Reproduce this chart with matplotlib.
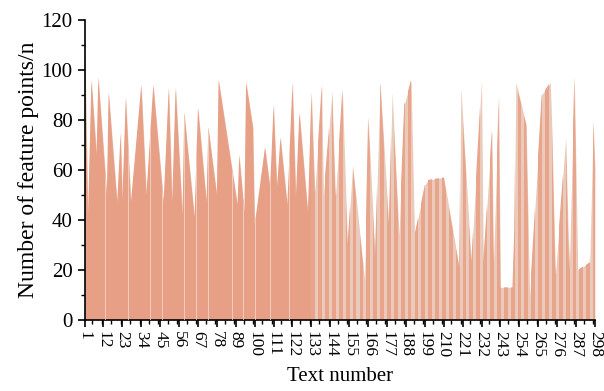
import numpy as np
import matplotlib
matplotlib.use("Agg")
import matplotlib.pyplot as plt
from matplotlib.ticker import MultipleLocator

plt.rcParams['font.family'] = ['Liberation Serif', 'DejaVu Serif']

# text number / feature point count at the turning points of the curve
text_ids = [1, 3, 5, 8, 9, 14, 15, 20, 22, 23, 25, 28, 34, 37, 41, 47, 50, 52, 54, 58,
            59, 65, 67, 72, 73, 78, 79, 90, 91, 94, 95, 99, 100, 106, 109, 111, 113, 115,
            119, 122, 124, 126, 131, 133, 135, 139, 140, 145, 147, 151, 154, 157, 164,
            166, 170, 173, 178, 180, 184, 187, 191, 193, 199, 201, 210, 219, 220, 226,
            232, 233, 238, 239, 242, 243, 250, 251, 252, 258, 260, 267, 272, 273, 275,
            281, 283, 286, 288, 295, 297, 298]
feature_pts = [117, 41, 96, 66, 97, 50, 91, 47, 75, 48, 89, 47, 94, 50, 94, 47, 93, 47, 93, 42,
               83, 41, 85, 47, 77, 50, 96, 46, 66, 43, 95, 77, 38, 69, 53, 86, 53, 73,
               46, 95, 49, 83, 43, 91, 51, 94, 50, 91, 49, 92, 30, 62, 16,
               81, 26, 95, 38, 91, 34, 86, 96, 34, 54, 56, 57, 21, 93, 23,
               96, 23, 76, 23, 89, 13, 13, 35, 95, 78, 9, 90, 95, 75, 18,
               73, 19, 97, 20, 23, 79, 61]

tick_vals = list(range(1, 299, 11))

fig = plt.figure(figsize=(6.04, 3.91), dpi=100)
ax = fig.add_axes([0.140, 0.182, 0.845, 0.767])

# base shape in the light tone
poly = ax.fill_between(text_ids, 0, feature_pts, color='#EACABA', lw=0, zorder=1)
clip_path = poly.get_paths()[0]

def clipped_span(x0, x1, color):
    r = ax.axvspan(x0, x1, color=color, lw=0, zorder=2)
    r.set_clip_path(clip_path, ax.transData)

# first group: solid salmon
clipped_span(1, 133, '#E79F86')
# thin light seams in the first group
for s in [13, 26, 39, 46, 59, 66, 73, 87, 93, 100, 109, 120]:
    ln = ax.axvline(s, color='#F1CDBE', lw=0.7, zorder=3)
    ln.set_clip_path(clip_path, ax.transData)
# second group: striped
for s in np.arange(133, 298, 4):
    clipped_span(s, s + 2.2, '#E8A58C')

ax.set_xlim(1, 298)
ax.set_ylim(0, 120)
ax.set_xticks(tick_vals)
ax.set_xticklabels([str(t) for t in tick_vals], rotation=-90, fontsize=12.5)
ax.xaxis.set_minor_locator(MultipleLocator(5.5))
ax.yaxis.set_major_locator(MultipleLocator(20))
ax.yaxis.set_minor_locator(MultipleLocator(10))
ax.tick_params(axis='y', labelsize=15)
ax.tick_params(which='major', direction='out', length=5, width=1.2)
ax.tick_params(which='minor', direction='out', length=3, width=1.0)
ax.tick_params(axis='x', pad=3)

for side in ['top', 'right']:
    ax.spines[side].set_visible(False)
for side in ['left', 'bottom']:
    ax.spines[side].set_linewidth(1.2)

ax.set_xlabel('Text number', fontsize=15, labelpad=7)
ax.set_ylabel('Number of feature points/n', fontsize=17, labelpad=2)

fig.savefig('out.png', dpi=100)
